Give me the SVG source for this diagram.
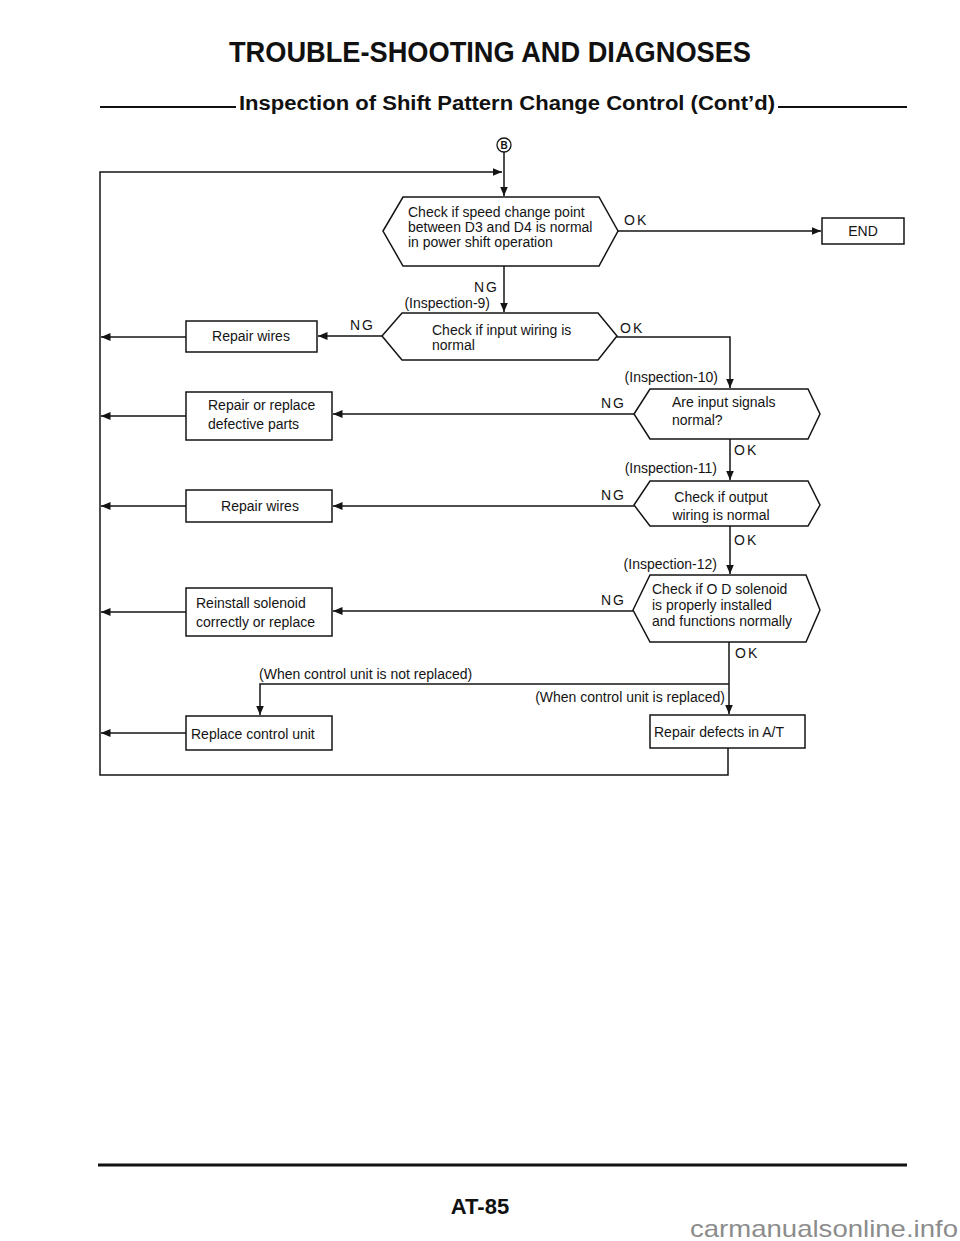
<svg xmlns="http://www.w3.org/2000/svg" width="960" height="1241" viewBox="0 0 960 1241">
<style>
  .ln{fill:none;stroke:#141414;stroke-width:1.5}
  .bx{fill:#fff;stroke:#141414;stroke-width:1.5}
  .t{font-family:"Liberation Sans",Arial,sans-serif;font-size:14px;fill:#141414}
  .lb{font-family:"Liberation Sans",Arial,sans-serif;font-size:14px;fill:#141414;letter-spacing:2px}
  .hd{font-family:"Liberation Sans",Arial,sans-serif;font-weight:bold;fill:#111}
</style>
<defs>
  <marker id="ah" markerUnits="userSpaceOnUse" markerWidth="10" markerHeight="9" refX="9.5" refY="4.5" orient="auto">
    <path d="M0,0.5 L9.5,4.5 L0,8.5 z" fill="#141414"/>
  </marker>
</defs>
<rect width="960" height="1241" fill="#fff"/>

<g id="header">
  <text class="hd" x="490" y="62" font-size="29" text-anchor="middle" textLength="522" lengthAdjust="spacingAndGlyphs">TROUBLE-SHOOTING AND DIAGNOSES</text>
  <line x1="100" y1="107" x2="236" y2="107" stroke="#111" stroke-width="2"/>
  <text class="hd" x="239" y="110" font-size="20" textLength="536" lengthAdjust="spacingAndGlyphs">Inspection of Shift Pattern Change Control (Cont’d)</text>
  <line x1="778" y1="107" x2="907" y2="107" stroke="#111" stroke-width="2"/>
</g>

<g id="connectors">
  <path class="ln" d="M504,152 V196" marker-end="url(#ah)"/>
  <path class="ln" d="M728,748 V775 H100 V172 H502" marker-end="url(#ah)"/>
  <path class="ln" d="M618,231 H821" marker-end="url(#ah)"/>
  <path class="ln" d="M504,266 V312" marker-end="url(#ah)"/>
  <path class="ln" d="M382,336 H318" marker-end="url(#ah)"/>
  <path class="ln" d="M186,337 H101" marker-end="url(#ah)"/>
  <path class="ln" d="M617,337 H730 V388" marker-end="url(#ah)"/>
  <path class="ln" d="M634,414 H333" marker-end="url(#ah)"/>
  <path class="ln" d="M186,416 H101" marker-end="url(#ah)"/>
  <path class="ln" d="M730,439 V480" marker-end="url(#ah)"/>
  <path class="ln" d="M634,506 H333" marker-end="url(#ah)"/>
  <path class="ln" d="M186,506 H101" marker-end="url(#ah)"/>
  <path class="ln" d="M730,526 V574" marker-end="url(#ah)"/>
  <path class="ln" d="M633,611 H333" marker-end="url(#ah)"/>
  <path class="ln" d="M186,612 H101" marker-end="url(#ah)"/>
  <path class="ln" d="M729,642 V714" marker-end="url(#ah)"/>
  <path class="ln" d="M729,684 H260 V715" marker-end="url(#ah)"/>
  <path class="ln" d="M186,733 H101" marker-end="url(#ah)"/>
  <text class="lb" x="624" y="225">OK</text>
  <text class="lb" x="474" y="292">NG</text>
  <text class="t" x="490" y="308" text-anchor="end">(Inspection-9)</text>
  <text class="lb" x="350" y="330">NG</text>
  <text class="lb" x="620" y="333">OK</text>
  <text class="t" x="718" y="382" text-anchor="end">(Inspection-10)</text>
  <text class="lb" x="601" y="408">NG</text>
  <text class="lb" x="734" y="455">OK</text>
  <text class="t" x="717" y="473" text-anchor="end">(Inspection-11)</text>
  <text class="lb" x="601" y="500">NG</text>
  <text class="lb" x="734" y="545">OK</text>
  <text class="t" x="717" y="569" text-anchor="end">(Inspection-12)</text>
  <text class="lb" x="601" y="605">NG</text>
  <text class="lb" x="735" y="658">OK</text>
  <text class="t" x="259" y="679">(When control unit is not replaced)</text>
  <text class="t" x="725" y="702" text-anchor="end">(When control unit is replaced)</text>
</g>

<g id="connector-B">
  <circle cx="504" cy="145" r="7" fill="#fff" stroke="#141414" stroke-width="1.3"/>
  <text x="504" y="149" font-family="Liberation Sans,Arial,sans-serif" font-size="10" font-weight="bold" text-anchor="middle" fill="#141414">B</text>
</g>

<g id="d1">
  <polygon class="bx" points="383,231 403,197 599,197 618,231 599,266 403,266"/>
  <text class="t" x="408" y="217">Check if speed change point</text>
  <text class="t" x="408" y="232">between D3 and D4 is normal</text>
  <text class="t" x="408" y="247">in power shift operation</text>
</g>

<g id="end">
  <rect class="bx" x="822" y="218" width="82" height="26"/>
  <text class="t" x="863" y="236" text-anchor="middle">END</text>
</g>

<g id="d2">
  <polygon class="bx" points="382,336 402,313 598,313 617,336 598,360 402,360"/>
  <text class="t" x="432" y="335">Check if input wiring is</text>
  <text class="t" x="432" y="350">normal</text>
</g>

<g id="r1">
  <rect class="bx" x="186" y="321" width="131" height="31"/>
  <text class="t" x="251" y="341" text-anchor="middle">Repair wires</text>
</g>

<g id="d3">
  <polygon class="bx" points="634,414 650,389 808,389 820,414 808,439 650,439"/>
  <text class="t" x="672" y="407">Are input signals</text>
  <text class="t" x="672" y="425">normal?</text>
</g>

<g id="r2">
  <rect class="bx" x="186" y="392" width="146" height="48"/>
  <text class="t" x="208" y="410">Repair or replace</text>
  <text class="t" x="208" y="429">defective parts</text>
</g>

<g id="d4">
  <polygon class="bx" points="634,505 650,481 808,481 820,505 808,526 650,526"/>
  <text class="t" x="721" y="502" text-anchor="middle">Check if output</text>
  <text class="t" x="721" y="520" text-anchor="middle">wiring is normal</text>
</g>

<g id="r3">
  <rect class="bx" x="186" y="490" width="146" height="32"/>
  <text class="t" x="260" y="511" text-anchor="middle">Repair wires</text>
</g>

<g id="d5">
  <polygon class="bx" points="633,610 650,575 806,575 820,610 806,642 650,642"/>
  <text class="t" x="652" y="594">Check if O D  solenoid</text>
  <text class="t" x="652" y="610">is properly installed</text>
  <text class="t" x="652" y="626">and functions normally</text>
</g>

<g id="r4">
  <rect class="bx" x="186" y="588" width="146" height="48"/>
  <text class="t" x="196" y="608">Reinstall solenoid</text>
  <text class="t" x="196" y="627">correctly or replace</text>
</g>

<g id="r5">
  <rect class="bx" x="186" y="716" width="146" height="34"/>
  <text class="t" x="191" y="739">Replace control unit</text>
</g>

<g id="r6">
  <rect class="bx" x="650" y="715" width="155" height="33"/>
  <text class="t" x="654" y="737">Repair defects in A/T</text>
</g>

<g id="footer">
  <line x1="98" y1="1165" x2="907" y2="1165" stroke="#111" stroke-width="3"/>
  <text class="hd" x="480" y="1214" font-size="22" text-anchor="middle">AT-85</text>
  <text x="690" y="1237" font-family="Liberation Sans,Arial,sans-serif" font-size="24" fill="#8c8c8c" textLength="268" lengthAdjust="spacingAndGlyphs">carmanualsonline.info</text>
</g>
</svg>
